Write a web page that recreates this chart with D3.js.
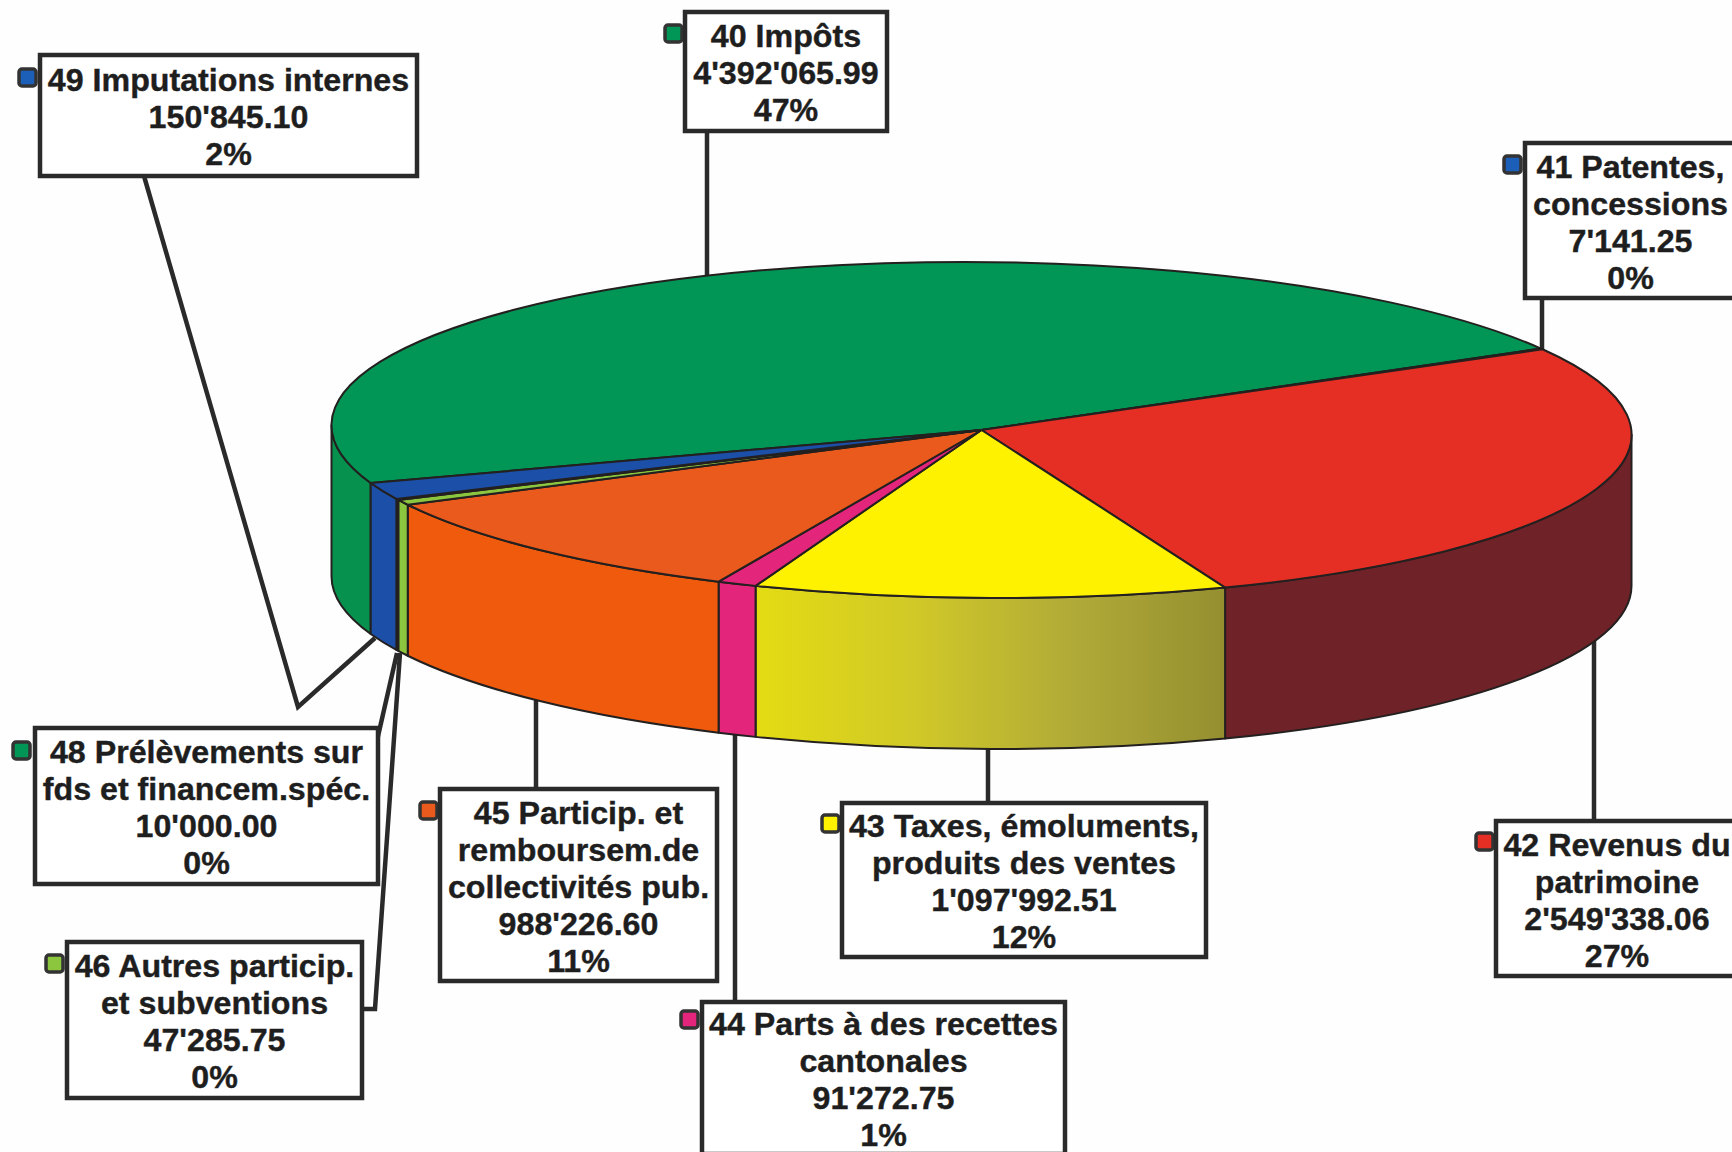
<!DOCTYPE html>
<html><head><meta charset="utf-8">
<script src="https://cdn.jsdelivr.net/npm/d3@7/dist/d3.min.js"></script>
<style>html,body{margin:0;padding:0;background:#fff;overflow:hidden}svg{display:block}
text{font-family:"Liberation Sans",Arial,sans-serif;font-weight:700;fill:#1e1e1e;stroke:#1e1e1e;stroke-width:.4;text-anchor:middle}</style>
</head><body><svg id="c" width="1732" height="1152"></svg>
<script>
const categories=[["40 Impôts"],["41 Patentes,","concessions"],["42 Revenus du","patrimoine"],["43 Taxes, émoluments,","produits des ventes"],["44 Parts à des recettes","cantonales"],["45 Particip. et","remboursem.de","collectivités pub."],["46 Autres particip.","et subventions"],["48 Prélèvements sur","fds et financem.spéc."],["49 Imputations internes"]];
const amounts=[4392065.99,7141.25,2549338.06,1097992.51,91272.75,988226.60,47285.75,10000.00,150845.10];
const percents=["47%","0%","27%","12%","1%","11%","0%","0%","2%"];
const topColors=["#019655","#1b4fa8","#e52f25","#fff200","#e3257b","#ea5a1c","#8cc63f","#019655","#1b4fa8"];
const sideColors=["#07914f","#1b4fa8","#6f2228","url(#yg)","#e3257b","#ef5a0d","#8cc63f","#019655","#1b4fa8"];
const swatchColors=["#019655","#1b5fb8","#e52f25","#fff200","#e3257b","#ea5a1c","#8cc63f","#019655","#1b5fb8"];
// label layout: box [x0,y0,x1,y1], swatch [x,y], leader polyline
const boxes=[[685,12,887,131],[1525,143,1736,298],[1496,821,1738,976],[842,803,1206,957],[702,1002,1065,1154],[440,789,717,981],[67,942,362,1098],[35,728,378,884],[40,55,417,176]];
const swatches=[[665,25],[1504,156],[1476,833],[822,815],[681,1011],[420,802],[46,955],[13,742],[19,69]];
const leaders=[[[707,131],[707,285]],[[1542,298],[1542,360]],[[1594,630],[1594,821]],[[988,740],[988,803]],[[735,725],[735,1002]],[[536,695],[536,789]],[[400,653],[375,1009],[362,1009]],[[397,653],[376,745]],[[144,176],[298,707],[375,638]]];

const cx=981.5,cy=430,rx=650,ry=168,depth=151;
const svg=d3.select("#c");
const rad=d=>d*Math.PI/180;
const defs=svg.append("defs");
const g=defs.append("linearGradient").attr("id","yg").attr("gradientUnits","userSpaceOnUse").attr("x1",755-cx).attr("x2",1224-cx).attr("y1",0).attr("y2",0);
[[0,"#e4dc12"],[0.35,"#d0c828"],[0.68,"#b0aa38"],[1,"#958f30"]].forEach(s=>g.append("stop").attr("offset",s[0]).attr("stop-color",s[1]));

const pie=d3.pie().sort(null).startAngle(rad(-110)).endAngle(rad(250));
const slices=pie(amounts);
const px=a=>rx*Math.sin(a), py=a=>-ry*Math.cos(a);
const stroke="#23201f";

svg.append("rect").attr("width",1732).attr("height",1152).attr("fill","#fefefe");

// leaders
svg.append("g").selectAll("path").data(leaders).join("path")
  .attr("d",d3.line()).attr("fill","none").attr("stroke","#2a2a2a").attr("stroke-width",4.5);

const pieG=svg.append("g").attr("transform",`translate(${cx},${cy}) skewY(0.42)`);

// sides: the visible front half of each slice
function frontSpan(s){
  for(const k of [0,-2*Math.PI]){
    const a0=Math.max(s.startAngle,rad(90)+k),a1=Math.min(s.endAngle,rad(270)+k);
    if(a1>a0) return [a0,a1];
  }
  return null;
}
const sideG=pieG.append("g");
slices.forEach((s,i)=>{
  const sp=frontSpan(s); if(!sp) return;
  const [a0,a1]=sp;
  sideG.append("path").attr("d",
    `M${px(a0)},${py(a0)}A${rx},${ry} 0 0 1 ${px(a1)},${py(a1)}L${px(a1)},${py(a1)+depth}A${rx},${ry} 0 0 0 ${px(a0)},${py(a0)+depth}Z`)
    .attr("fill",sideColors[i]).attr("stroke",stroke).attr("stroke-width",2).attr("stroke-linejoin","round");
});

// top face
const arc=d3.arc().innerRadius(0).outerRadius(rx);
pieG.append("g").attr("transform",`scale(1,${ry/rx})`)
  .selectAll("path").data(slices).join("path")
  .attr("d",arc).attr("fill",(d,i)=>topColors[i])
  .attr("stroke",stroke).attr("stroke-width",2).attr("stroke-linejoin","round")
  .attr("vector-effect","non-scaling-stroke");

// labels
const fmt=d3.formatLocale({decimal:".",thousands:"'",grouping:[3],currency:["",""]}).format(",.2f");
const lh=37, fs=32.2;
categories.forEach((cat,i)=>{
  const b=boxes[i], sw=swatches[i];
  const gr=svg.append("g");
  gr.append("rect").attr("x",sw[0]).attr("y",sw[1]).attr("width",17).attr("height",17).attr("rx",3)
    .attr("fill",swatchColors[i]).attr("stroke","#333").attr("stroke-width",3.5);
  gr.append("rect").attr("x",b[0]).attr("y",b[1]).attr("width",b[2]-b[0]).attr("height",b[3]-b[1])
    .attr("fill","#fff").attr("stroke","#2a2a2a").attr("stroke-width",4.5);
  const lines=[...cat,fmt(amounts[i]),percents[i]];
  const mid=(b[0]+b[2])/2;
  const top=b[1]+(b[3]-b[1]-lh*lines.length)/2;
  lines.forEach((t,j)=>gr.append("text").attr("x",mid).attr("y",top+lh*j+lh*0.85)
    .attr("font-size",fs).text(t));
});
</script></body></html>
